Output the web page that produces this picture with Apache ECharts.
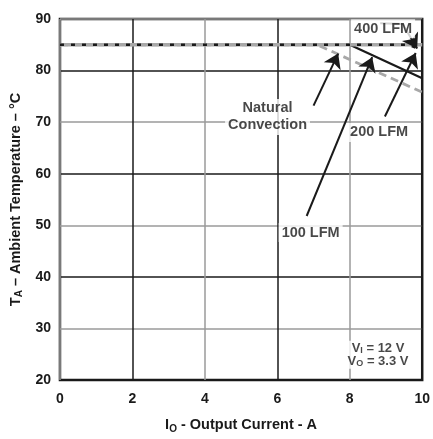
<!DOCTYPE html>
<html>
<head>
<meta charset="utf-8">
<script src="https://cdn.jsdelivr.net/npm/echarts@6/dist/echarts.min.js"></script>
<style>
  html, body { margin: 0; padding: 0; background: #fff; }
  #chart { width: 433px; height: 439px; }
</style>
</head>
<body>
<div id="chart"></div>
<script>
// Derating curves: ambient temperature vs output current
const xTicks = [0, 2, 4, 6, 8, 10];
const yTicks = [20, 30, 40, 50, 60, 70, 80, 90];

const naturalConvection = [[0, 85], [7.1, 85], [10, 75.8]];
const lfm100 = [[0, 85], [8, 85], [10, 78.5]];
const lfm200 = [[0, 85], [9.6, 85], [10, 84]];
const lfm400 = [[0, 85], [10, 85]];

// Callout leader segments without heads, in data units
const leaders = [
  [[8.84, 89.2], [9.46, 89.05]]
];
// Callout arrows (tail -> tip), in data units
const arrows = [
  [[9.46, 89.05], [9.86, 84.3]],
  [[7.0, 73.2], [7.68, 83.3]],
  [[6.81, 51.8], [8.62, 82.6]],
  [[8.97, 71.1], [9.82, 83.4]]
];

// Callout labels: [x, y, text]
const notes = [
  [8.92, 88.1, '400 LFM'],
  [5.73, 71.0, 'Natural\nConvection'],
  [6.92, 48.6, '100 LFM'],
  [8.81, 68.0, '200 LFM'],
  [8.78, 24.9, '{t|V}{s|I}{t| = 12 V}\n{t|V}{s|O}{t| = 3.3 V}']
];

const FONT = '"Liberation Sans", Arial, sans-serif';
const DARK = '#1a1a1a';
const GREY = '#9a9a9a';

const chart = echarts.init(document.getElementById('chart'), null, { renderer: 'canvas' });

const subRich = (size, sub, lh) => ({
  b: { fontFamily: FONT, fontWeight: 'bold', fontSize: size, color: DARK, lineHeight: lh },
  s: { fontFamily: FONT, fontWeight: 'bold', fontSize: sub, color: DARK, lineHeight: lh, verticalAlign: 'bottom', padding: [5, 0, 0, 0] },
  t: { fontFamily: FONT, fontWeight: 'bold', fontSize: size, color: DARK, lineHeight: lh }
});

chart.setOption({
  animation: false,
  backgroundColor: '#fff',
  grid: {
    left: 58, right: 5, top: 19, bottom: 53,
    show: true, borderColor: DARK, borderWidth: 2.5, backgroundColor: 'transparent'
  },
  xAxis: {
    type: 'value', min: xTicks[0], max: xTicks[xTicks.length - 1], interval: 2,
    axisLine: { show: false }, axisTick: { show: false },
    axisLabel: { fontFamily: FONT, fontWeight: 'bold', fontSize: 14, color: DARK, margin: 12 },
    splitLine: { show: true, lineStyle: { color: [GREY, DARK], width: 1.5 } },
    name: '{b|I}{s|O}{b| - Output Current - A}',
    nameLocation: 'middle', nameGap: 36,
    nameTextStyle: { rich: subRich(14.5, 10, 18) }
  },
  yAxis: {
    type: 'value', min: yTicks[0], max: yTicks[yTicks.length - 1], interval: 10,
    axisLine: { show: false }, axisTick: { show: false },
    axisLabel: { fontFamily: FONT, fontWeight: 'bold', fontSize: 14, color: DARK, margin: 9 },
    splitLine: { show: true, lineStyle: { color: [DARK, GREY], width: 1.5 } },
    name: '{b|T}{s|A}{b| – Ambient Temperature – °C}',
    nameLocation: 'middle', nameGap: 34, nameRotate: 90,
    nameTextStyle: { rich: subRich(14.5, 10, 18) }
  },
  series: [
    {
      name: '100 LFM', type: 'line', data: lfm100, symbol: 'none', z: 2,
      lineStyle: { color: DARK, width: 2.2 }
    },
    {
      name: 'Natural Convection', type: 'line', data: naturalConvection, symbol: 'none', z: 3,
      lineStyle: { color: '#a8a8a8', width: 2.8, type: [8, 5] }
    },
    {
      name: '400 LFM', type: 'line', data: lfm400, symbol: 'none', z: 4,
      lineStyle: { color: '#a8a8a8', width: 3.5 }
    },
    {
      name: '200 LFM', type: 'line', data: lfm200, symbol: 'none', z: 5,
      lineStyle: { color: DARK, width: 2.4, type: [4, 7] }
    },
    {
      name: 'leaders', type: 'lines', coordinateSystem: 'cartesian2d', z: 6,
      symbol: ['none', 'none'],
      lineStyle: { color: DARK, width: 2, opacity: 1, curveness: 0 },
      data: leaders.map(c => ({ coords: c }))
    },
    {
      name: 'arrows', type: 'lines', coordinateSystem: 'cartesian2d', z: 6,
      symbol: ['none', 'arrow'], symbolSize: [0, 14],
      lineStyle: { color: DARK, width: 2, opacity: 1, curveness: 0 },
      data: arrows.map(c => ({ coords: c }))
    },
    {
      name: 'notes', type: 'scatter', symbolSize: 0, z: 7, silent: true,
      data: notes.map(n => ({ value: [n[0], n[1]], text: n[2] })),
      label: {
        show: true, position: 'inside', backgroundColor: '#fff', padding: [1, 3],
        fontFamily: FONT, fontWeight: 'bold', fontSize: 14.5, color: DARK, lineHeight: 17,
        align: 'center', verticalAlign: 'middle',
        formatter: p => p.data.text,
        rich: subRich(13, 9, 13)
      }
    }
  ]
});
</script>
</body>
</html>
